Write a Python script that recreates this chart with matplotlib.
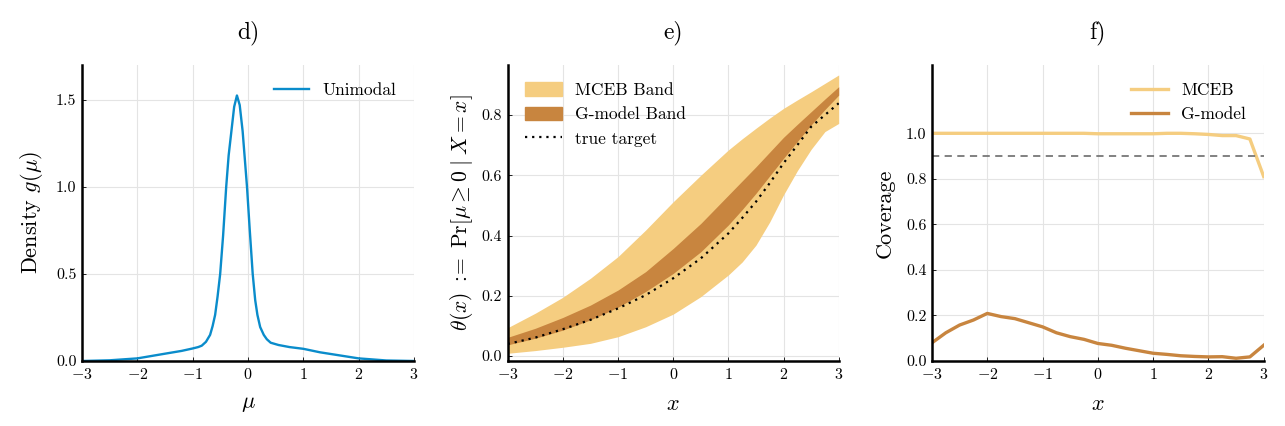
import numpy as np
import matplotlib
matplotlib.use("Agg")
import matplotlib.pyplot as plt
from matplotlib.patches import Patch
from matplotlib.lines import Line2D

plt.rcParams["font.family"] = "cmr10"
plt.rcParams["mathtext.fontset"] = "cm"
plt.rcParams["axes.formatter.use_mathtext"] = True

# panel d: prior density
mu = [-3.0, -2.5, -2.0, -1.5, -1.2, -1.0, -0.9, -0.836, -0.76, -0.685, -0.64, -0.594,
      -0.55, -0.503, -0.45, -0.394, -0.35, -0.30, -0.25, -0.2, -0.15, -0.097, -0.05,
      -0.018, 0.03, 0.085, 0.13, 0.17, 0.22, 0.285, 0.34, 0.41, 0.55, 0.75, 1.0, 1.3,
      1.5, 2.0, 2.5, 3.0]
density = [0.0, 0.004, 0.015, 0.042, 0.058, 0.072, 0.08, 0.088, 0.11, 0.15, 0.20, 0.265,
           0.37, 0.5, 0.72, 1.0, 1.18, 1.32, 1.46, 1.525, 1.47, 1.32, 1.13,
           1.0, 0.76, 0.5, 0.35, 0.265, 0.195, 0.15, 0.125, 0.105, 0.092, 0.08, 0.07, 0.05,
           0.04, 0.015, 0.003, 0.0]

# panel e: bands for theta(x)
x_band = [-3.0, -2.5, -2.0, -1.5, -1.0, -0.5, 0.0, 0.5, 1.0, 1.25, 1.5, 1.75, 2.0,
          2.25, 2.5, 2.75, 3.0]
mceb_lo = [0.009, 0.018, 0.029, 0.042, 0.064, 0.097, 0.139, 0.197, 0.269, 0.312, 0.368,
           0.445, 0.535, 0.615, 0.686, 0.745, 0.772]
mceb_hi = [0.094, 0.142, 0.195, 0.258, 0.33, 0.418, 0.512, 0.60, 0.684, 0.721, 0.756,
           0.79, 0.822, 0.85, 0.877, 0.905, 0.933]
gmod_lo = [0.037, 0.059, 0.086, 0.12, 0.162, 0.214, 0.274, 0.346, 0.435, 0.486, 0.54,
           0.598, 0.656, 0.712, 0.767, 0.818, 0.866]
gmod_hi = [0.062, 0.092, 0.128, 0.169, 0.219, 0.28, 0.357, 0.44, 0.534, 0.581, 0.628,
           0.677, 0.726, 0.769, 0.811, 0.853, 0.894]
true_target = [0.04, 0.061, 0.089, 0.12, 0.158, 0.202, 0.258, 0.324, 0.407, 0.458, 0.512,
               0.574, 0.64, 0.70, 0.761, 0.80, 0.839]

# panel f: coverage
x_cov = [-3.0, -2.75, -2.5, -2.25, -2.0, -1.75, -1.5, -1.25, -1.0, -0.75, -0.5, -0.25,
         0.0, 0.25, 0.5, 0.75, 1.0, 1.25, 1.5, 1.75, 2.0, 2.25, 2.5, 2.75, 3.0]
cov_mceb = [1.0, 1.0, 1.0, 1.0, 1.0, 1.0, 1.0, 1.0, 1.0, 1.0, 1.0, 1.0,
            0.998, 0.998, 0.998, 0.998, 0.998, 1.0, 1.0, 0.998, 0.995, 0.99, 0.99, 0.975, 0.81]
cov_gmod = [0.08, 0.124, 0.158, 0.18, 0.209, 0.195, 0.186, 0.168, 0.15, 0.124, 0.107, 0.095,
            0.077, 0.069, 0.056, 0.045, 0.034, 0.029, 0.023, 0.02, 0.018, 0.019, 0.012, 0.018, 0.069]
nominal = 0.9

BLUE = "#0a8ccb"
LIGHT = "#f5cd80"
DARK = "#c8853f"

W, H = 1285, 426
fig = plt.figure(figsize=(W / 100, H / 100), dpi=100)


def make_ax(left_px, right_px, top_px=65, bottom_px=361):
    ax = fig.add_axes([left_px / W, 1 - bottom_px / H,
                       (right_px - left_px) / W, (bottom_px - top_px) / H])
    for s in ["top", "right"]:
        ax.spines[s].set_visible(False)
    for s in ["left", "bottom"]:
        ax.spines[s].set_linewidth(1.8)
    ax.grid(True, color="#e4e4e4", linewidth=0.8)
    ax.set_axisbelow(True)
    ax.tick_params(direction="in", length=3, width=0.6, labelsize=11.5, pad=4)
    ax.set_xlim(-3, 3)
    ax.set_xticks([-3, -2, -1, 0, 1, 2, 3])
    return ax


# d)
ax = make_ax(82, 414)
ax.plot(mu, density, color=BLUE, lw=1.7, label="Unimodal")
ax.set_ylim(0, 1.7)
ax.set_yticks([0.0, 0.5, 1.0, 1.5])
ax.set_yticklabels(["0.0", "0.5", "1.0", "1.5"])
ax.set_xlabel(r"$\mu$", fontsize=16, labelpad=9)
ax.set_ylabel(r"Density $g(\mu)$", fontsize=16, labelpad=8)
ax.set_title("d)", fontsize=17, pad=19)
ax.legend(loc="upper right", frameon=False, fontsize=12.5, handlelength=2.0,
          borderaxespad=0.6)

# e)
ax = make_ax(507.7, 838.7)
ax.fill_between(x_band, mceb_lo, mceb_hi, color=LIGHT, lw=0)
ax.fill_between(x_band, gmod_lo, gmod_hi, color=DARK, lw=0)
ax.plot(x_band, true_target, color="black", lw=1.6, linestyle=(0, (1, 2.2)))
ax.set_ylim(-0.0166, 0.966)
ax.set_yticks([0.0, 0.2, 0.4, 0.6, 0.8])
ax.set_yticklabels(["0.0", "0.2", "0.4", "0.6", "0.8"])
ax.set_xlabel(r"$x$", fontsize=16, labelpad=9)
ax.set_ylabel(r"$\theta(x)\ {:}\!\!{=}\ \mathrm{Pr}[\mu \geq 0\;|\;X = x]$",
              fontsize=15.5, labelpad=5)
ax.set_title("e)", fontsize=17, pad=19)
handles = [Patch(color=LIGHT, label="MCEB Band"),
           Patch(color=DARK, label="G-model Band"),
           Line2D([], [], color="black", lw=1.6, linestyle=(0, (1, 2.2)), label="true target")]
ax.legend(handles=handles, loc="upper left", frameon=False, fontsize=12.5,
          handlelength=2.1, handleheight=0.8, borderaxespad=0.6)

# f)
ax = make_ax(932, 1263.7)
ax.plot(x_cov, cov_mceb, color=LIGHT, lw=2.4, label="MCEB")
ax.plot(x_cov, cov_gmod, color=DARK, lw=2.4, label="G-model")
ax.axhline(nominal, color="#777777", lw=1.3, linestyle=(0, (4, 3)))
ax.set_ylim(0, 1.3)
ax.set_yticks([0.0, 0.2, 0.4, 0.6, 0.8, 1.0])
ax.set_yticklabels(["0.0", "0.2", "0.4", "0.6", "0.8", "1.0"])
ax.set_xlabel(r"$x$", fontsize=16, labelpad=9)
ax.set_ylabel("Coverage", fontsize=16, labelpad=8)
ax.set_title("f)", fontsize=17, pad=19)
ax.legend(loc="upper right", frameon=False, fontsize=12.5, handlelength=2.1,
          borderaxespad=0.6)

fig.savefig("out.png", dpi=100)
